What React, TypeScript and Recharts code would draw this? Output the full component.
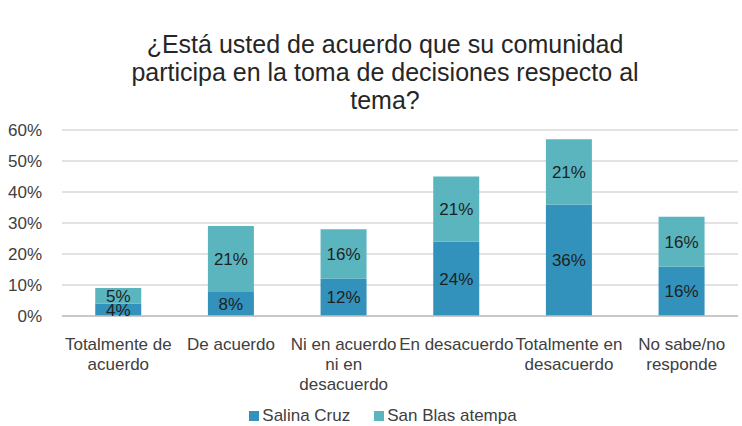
import { BarChart, Bar, XAxis, YAxis, CartesianGrid, Legend, LabelList } from 'recharts';

const categories = [
  'Totalmente de acuerdo',
  'De acuerdo',
  'Ni en acuerdo ni en desacuerdo',
  'En desacuerdo',
  'Totalmente en desacuerdo',
  'No sabe/no responde',
];

// wrapped lines for the category ticks
const tickLines: Record<string, string[]> = {
  'Totalmente de acuerdo': ['Totalmente de', 'acuerdo'],
  'De acuerdo': ['De acuerdo'],
  'Ni en acuerdo ni en desacuerdo': ['Ni en acuerdo', 'ni en', 'desacuerdo'],
  'En desacuerdo': ['En desacuerdo'],
  'Totalmente en desacuerdo': ['Totalmente en', 'desacuerdo'],
  'No sabe/no responde': ['No sabe/no', 'responde'],
};

const salinaCruz = [4, 8, 12, 24, 36, 16];
const sanBlas = [5, 21, 16, 21, 21, 16];
const yTicks = [0, 10, 20, 30, 40, 50, 60];

const FONT = '"Liberation Sans", Arial, sans-serif';
const C_SALINA = '#3292BB';
const C_SANBLAS = '#5AB5BF';

const chartData = categories.map((name, i) => ({
  name,
  'Salina Cruz': salinaCruz[i],
  'San Blas atempa': sanBlas[i],
}));

function CategoryTick(props: any) {
  const { x, y, payload } = props;
  const lines = tickLines[payload.value] || [payload.value];
  return (
    <text x={x} y={y} textAnchor="middle" fill="#404040" fontSize={17} fontFamily={FONT}>
      {lines.map((l, i) => (
        <tspan key={i} x={x} y={y + 26 + i * 20}>
          {l}
        </tspan>
      ))}
    </text>
  );
}

function LegendContent() {
  const items = [
    { label: 'Salina Cruz', color: C_SALINA },
    { label: 'San Blas atempa', color: C_SANBLAS },
  ];
  return (
    <div
      style={{
        display: 'flex',
        justifyContent: 'center',
        gap: 24,
        paddingLeft: 28,
        paddingTop: 4,
        fontFamily: FONT,
        fontSize: 17,
        lineHeight: '19px',
        color: '#404040',
      }}
    >
      {items.map((it) => (
        <div key={it.label} style={{ display: 'flex', alignItems: 'center' }}>
          <span style={{ display: 'inline-block', width: 10, height: 10, background: it.color, marginRight: 3 }} />
          {it.label}
        </div>
      ))}
    </div>
  );
}

export default function App() {
  return (
    <div style={{ position: 'absolute', left: 0, top: 0, width: 742, height: 426, background: '#fff' }}>
      <div
        style={{
          position: 'absolute',
          top: 30,
          left: 14,
          width: 742,
          textAlign: 'center',
          fontFamily: FONT,
          fontSize: 25,
          lineHeight: '28px',
          color: '#262626',
        }}
      >
        ¿Está usted de acuerdo que su comunidad
        <br />
        participa en la toma de decisiones respecto al
        <br />
        tema?
      </div>
      <div style={{ position: 'absolute', top: 0, left: 0 }}>
        <BarChart
          width={742}
          height={426}
          data={chartData}
          margin={{ top: 130, right: 4, bottom: 0, left: 0 }}
          barCategoryGap="29.5%"
        >
          <CartesianGrid vertical={false} stroke="#d9d9d9" strokeWidth={1.5} />
          <XAxis
            dataKey="name"
            interval={0}
            height={86}
            tickLine={false}
            axisLine={{ stroke: '#bfbfbf', strokeWidth: 1.5 }}
            tick={<CategoryTick />}
          />
          <YAxis
            domain={[0, 60]}
            ticks={yTicks}
            width={62}
            axisLine={false}
            tickLine={false}
            tickFormatter={(v) => `${v}%`}
            tick={{ fill: '#404040', fontSize: 17, fontFamily: FONT }}
            tickMargin={14}
          />
          <Legend verticalAlign="bottom" height={24} content={<LegendContent />} />
          <Bar dataKey="Salina Cruz" stackId="a" fill={C_SALINA} isAnimationActive={false}>
            <LabelList
              dataKey="Salina Cruz"
              position="center"
              formatter={(v: any) => `${v}%`}
              fill="#1f1f1f"
              fontSize={17}
              fontFamily={FONT}
            />
          </Bar>
          <Bar dataKey="San Blas atempa" stackId="a" fill={C_SANBLAS} isAnimationActive={false}>
            <LabelList
              dataKey="San Blas atempa"
              position="center"
              formatter={(v: any) => `${v}%`}
              fill="#1f1f1f"
              fontSize={17}
              fontFamily={FONT}
            />
          </Bar>
        </BarChart>
      </div>
    </div>
  );
}
